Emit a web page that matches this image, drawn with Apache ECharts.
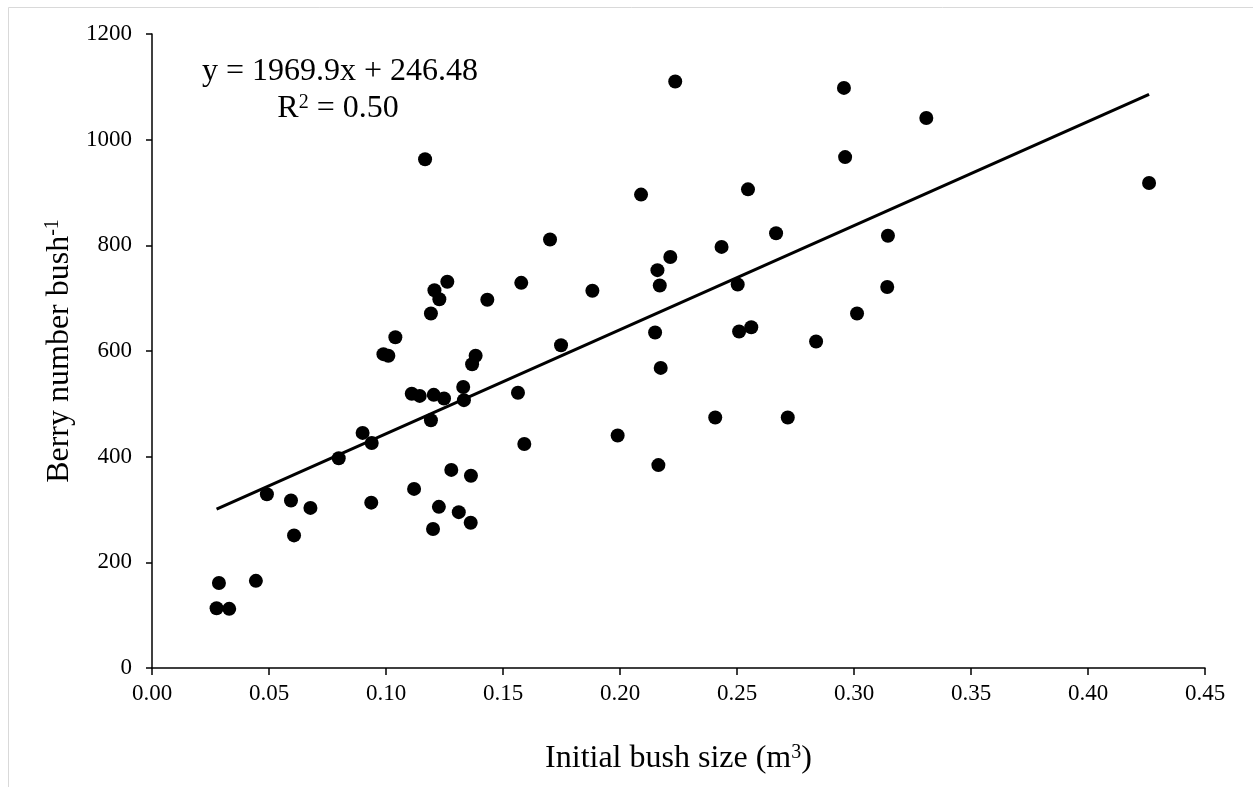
<!DOCTYPE html>
<html>
<head>
<meta charset="utf-8">
<script src="https://cdn.jsdelivr.net/npm/echarts@6/dist/echarts.min.js"></script>
<style>
html,body{margin:0;padding:0;background:#fff;}
#chart{width:1253px;height:787px;}
</style>
</head>
<body>
<div id="chart"></div>
<script>
// Initial bush size (m3)
var bushSize = [
  0.0276,0.0330,0.0286,0.0444,0.0491,0.0594,0.0607,0.0677,0.0798,0.0900,
  0.0939,0.0937,0.0989,0.1010,0.1040,0.1110,0.1144,0.1120,0.1204,0.1192,
  0.1248,0.1201,0.1226,0.1279,0.1311,0.1330,0.1333,0.1363,0.1362,0.1383,
  0.1368,0.1564,0.1591,0.1167,0.1207,0.1262,0.1228,0.1192,0.1433,0.1578,
  0.2236,0.2957,0.2962,0.2090,0.2547,0.1701,0.2667,0.3145,0.2434,0.2215,
  0.2160,0.2170,0.1882,0.2503,0.3142,0.3013,0.2150,0.2509,0.2561,0.2838,
  0.1748,0.2174,0.2407,0.2717,0.1990,0.2164,0.3309,0.4261
];
// Berry number per bush
var berryNumber = [
  113,112,161,165,329,317,251,303,397,445,
  426,313,594,591,626,519,515,339,517,469,
  510,263,305,375,295,532,507,364,275,591,
  575,521,424,963,715,731,698,671,697,729,
  1110,1098,967,896,906,811,823,818,797,778,
  753,724,714,726,721,671,635,637,645,618,
  611,568,474,474,440,384,1041,918
];
var slope = 1969.9;
var intercept = 246.48;
var xTicks = [0, 0.45, 0.05];   // min, max, interval
var yTicks = [0, 1200, 200];

var points = bushSize.map(function(x, i){ return [x, berryNumber[i]]; });
var xMinData = Math.min.apply(null, bushSize);
var xMaxData = Math.max.apply(null, bushSize);
var trend = [[xMinData, slope*xMinData + intercept], [xMaxData, slope*xMaxData + intercept]];

var FONT = '"Liberation Serif","Times New Roman",serif';
var chart = echarts.init(document.getElementById('chart'), null, {renderer:'canvas'});
chart.setOption({
  backgroundColor: '#ffffff',
  animation: false,
  grid: {left:152, top:34, right:48, bottom:119, containLabel:false},
  xAxis: {
    type:'value', min:xTicks[0], max:xTicks[1], interval:xTicks[2],
    name:'Initial bush size (m{sup|3})',
    nameLocation:'middle', nameGap:75,
    nameTextStyle:{fontFamily:FONT, fontSize:32, color:'#000',
      rich:{sup:{fontFamily:FONT, fontSize:20, lineHeight:28, verticalAlign:'top', color:'#000'}}},
    axisLine:{show:true, onZero:false, lineStyle:{color:'#000', width:1.5}},
    axisTick:{show:true, inside:false, length:7, lineStyle:{color:'#000', width:1.5}},
    axisLabel:{fontFamily:FONT, fontSize:23, color:'#000', margin:14,
      formatter:function(v){return v.toFixed(2);}},
    splitLine:{show:false}
  },
  yAxis: {
    type:'value', min:yTicks[0], max:yTicks[1], interval:yTicks[2],
    name:'Berry number bush{sup|-1}',
    nameLocation:'middle', nameGap:75, nameRotate:90,
    nameTextStyle:{fontFamily:FONT, fontSize:32, color:'#000',
      rich:{sup:{fontFamily:FONT, fontSize:20, lineHeight:28, verticalAlign:'top', color:'#000'}}},
    axisLine:{show:true, onZero:false, lineStyle:{color:'#000', width:1.5}},
    axisTick:{show:true, inside:false, length:6, lineStyle:{color:'#000', width:1.5}},
    axisLabel:{fontFamily:FONT, fontSize:23, color:'#000', margin:20,
      formatter:function(v){return String(v);}},
    splitLine:{show:false}
  },
  series: [
    {
      type:'line', data:trend, symbol:'none', silent:true,
      lineStyle:{color:'#000', width:3}, z:1
    },
    {
      type:'scatter', data:points, symbol:'circle', symbolSize:14,
      itemStyle:{color:'#000', opacity:1}, z:2
    }
  ],
  graphic: [
    {type:'rect', left:6, top:5, shape:{width:1300, height:781}, silent:true,
      style:{fill:'none', stroke:'#d9d9d9', lineWidth:1}, z:-1},
    {type:'text', x:340, y:72, silent:true,
      style:{text:'y = 1969.9x + 246.48', font:'32px ' + FONT, fill:'#000',
        textAlign:'center', textVerticalAlign:'middle'}},
    {type:'text', x:338, y:109, silent:true,
      style:{text:'R{sup|2} = 0.50', fontFamily:FONT, fontSize:32, fill:'#000',
        align:'center', verticalAlign:'middle', lineHeight:32,
        rich:{sup:{fontFamily:FONT, fontSize:20, lineHeight:28, verticalAlign:'top', fill:'#000'}}}}
  ]
});
</script>
</body>
</html>
